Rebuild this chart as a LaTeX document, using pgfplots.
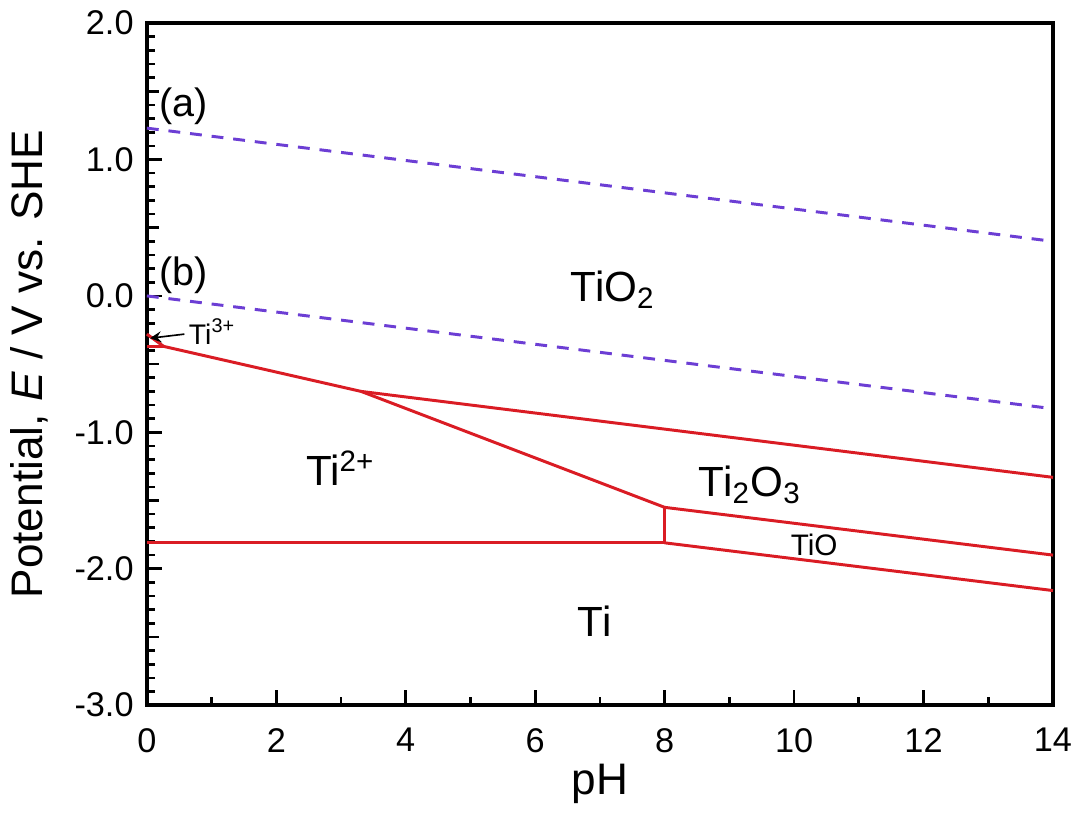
\documentclass[border=0pt]{standalone}
\usepackage{pgfplots}
\pgfplotsset{compat=1.18}
\usepackage{fontspec}
\setmainfont{Liberation Sans}
\definecolor{pbred}{RGB}{218,28,36}
\definecolor{pbpurple}{RGB}{108,62,212}
\begin{document}
\begin{tikzpicture}
\begin{axis}[
  scale only axis,
  width=275pt, height=207pt,
  xmin=0, xmax=14, ymin=-3, ymax=2,
  axis line style={line width=1pt},
  xtick={0,2,...,14},
  minor xtick={1,3,...,13},
  ytick={-3,-2,...,2},
  minor ytick={-3,-2.9,...,2},
  extra y ticks={-2.5,-1.5,-0.5,0.5,1.5},
  extra y tick labels={},
  extra y tick style={major tick length=3.6pt},
  tick align=inside,
  xtick pos=bottom, ytick pos=left,
  major tick length=4.5pt, minor tick length=2.6pt,
  tick style={black, line width=0.8pt},
  yticklabel={\pgfmathprintnumber[fixed,fixed zerofill,precision=1]{\tick}},
  /pgf/number format/assume math mode=true,
  tick label style={font=\fontsize{10.4}{12}\selectfont},
  xticklabel style={yshift=-3.5pt},
  yticklabel style={xshift=-0.5pt},
  xlabel={pH},
  ylabel={Potential, \textit{E} / V vs. SHE},
  label style={font=\fontsize{13.4}{15}\selectfont},
  xlabel style={yshift=3.5pt},
  ylabel style={yshift=1pt},
  clip=false,
]
% water lines (a) and (b)
\addplot[pbpurple, line width=0.9pt, dash pattern=on 3.6pt off 3pt] coordinates {(0,1.23) (14,0.40)};
\addplot[pbpurple, line width=0.9pt, dash pattern=on 3.6pt off 3pt] coordinates {(0,0.0) (14,-0.827)};
% phase boundaries
\addplot[pbred, line width=0.9pt] coordinates {(0,-0.28) (0.26,-0.37)};
\addplot[pbred, line width=0.9pt] coordinates {(0,-0.37) (0.26,-0.37)};
\addplot[pbred, line width=0.9pt] coordinates {(0.26,-0.37) (3.31,-0.70)};
\addplot[pbred, line width=0.9pt] coordinates {(3.31,-0.70) (8,-1.55)};
\addplot[pbred, line width=0.9pt] coordinates {(3.31,-0.70) (14,-1.33)};
\addplot[pbred, line width=0.9pt] coordinates {(8,-1.55) (14,-1.90)};
\addplot[pbred, line width=0.9pt] coordinates {(8,-1.81) (14,-2.16)};
\addplot[pbred, line width=0.9pt] coordinates {(0,-1.81) (8,-1.81)};
\addplot[pbred, line width=0.9pt] coordinates {(8,-1.55) (8,-1.81)};
% labels
\node[font=\fontsize{12}{14}\selectfont] at (axis cs:0.57,1.39) {(a)};
\node[font=\fontsize{12}{14}\selectfont] at (axis cs:0.57,0.15) {(b)};
\node[font=\fontsize{12.8}{15}\selectfont, anchor=base west, inner sep=0pt] at (axis cs:6.54,-0.04) {TiO\textsubscript{2}};
\node[font=\fontsize{12.8}{15}\selectfont, anchor=base west, inner sep=0pt] at (axis cs:2.45,-1.39) {Ti\textsuperscript{2+}};
\node[font=\fontsize{12.8}{15}\selectfont, anchor=base west, inner sep=0pt] at (axis cs:8.52,-1.47) {Ti\textsubscript{2}O\textsubscript{3}};
\node[font=\fontsize{9}{11}\selectfont, anchor=base west, inner sep=0pt] at (axis cs:9.94,-1.90) {TiO};
\node[font=\fontsize{12.8}{15}\selectfont, anchor=base west, inner sep=0pt] at (axis cs:6.65,-2.50) {Ti};
\node[font=\fontsize{8.6}{10}\selectfont, anchor=west, inner sep=0pt] at (axis cs:0.64,-0.26) {Ti\textsuperscript{3+}};
\draw[-stealth, line width=0.5pt] (axis cs:0.58,-0.28) -- (axis cs:0.05,-0.31);
\end{axis}
\end{tikzpicture}
\end{document}
